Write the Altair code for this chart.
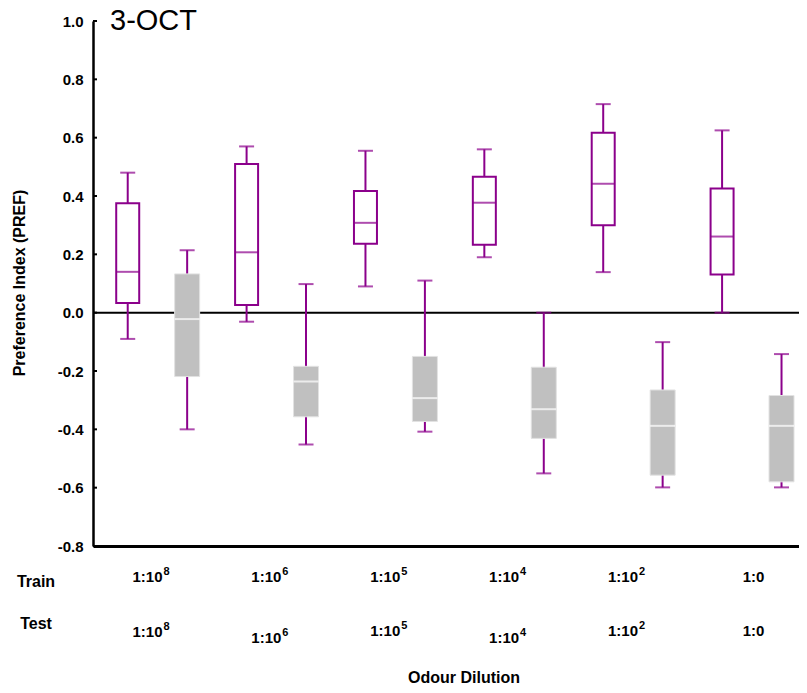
import altair as alt
import pandas as pd

# ---- data ----
dil_base = ["1:10", "1:10", "1:10", "1:10", "1:10", "1:0"]
dil_exp = ["8", "6", "5", "4", "2", ""]

train_hi  = [0.480, 0.570, 0.555, 0.560, 0.715, 0.625]
train_q3  = [0.375, 0.510, 0.417, 0.466, 0.617, 0.426]
train_med = [0.140, 0.207, 0.308, 0.377, 0.442, 0.261]
train_q1  = [0.033, 0.026, 0.236, 0.233, 0.300, 0.131]
train_lo  = [-0.090, -0.031, 0.090, 0.190, 0.139, 0.000]

test_hi  = [0.214, 0.098, 0.110, 0.000, -0.101, -0.142]
test_q3  = [0.133, -0.184, -0.150, -0.187, -0.265, -0.284]
test_med = [-0.022, -0.236, -0.293, -0.331, -0.388, -0.388]
test_q1  = [-0.219, -0.357, -0.373, -0.431, -0.557, -0.580]
test_lo  = [-0.400, -0.452, -0.408, -0.551, -0.599, -0.599]

y_ticks = [-0.8, -0.6, -0.4, -0.2, 0.0, 0.2, 0.4, 0.6, 0.8, 1.0]

# ---- style ----
PURPLE = "#8B008B"
GRAY = "#C0C0C0"
FONT = "Liberation Sans"

rows = []
for i in range(len(dil_base)):
    rows.append(dict(pos=2 * i, phase="Train",
                     lo=train_lo[i], q1=train_q1[i], med=train_med[i], q3=train_q3[i], hi=train_hi[i],
                     fill="white", stroke=PURPLE, sw=2, bw=23, medc=PURPLE, mw=23))
    rows.append(dict(pos=2 * i + 1, phase="Test",
                     lo=test_lo[i], q1=test_q1[i], med=test_med[i], q3=test_q3[i], hi=test_hi[i],
                     fill=GRAY, stroke="#e2e2e2", sw=1, bw=25, medc="white", mw=25))
df = pd.DataFrame(rows)

xscale = alt.Scale(domain=[-0.5, 11.21], nice=False, zero=False)
yscale = alt.Scale(domain=[-0.8, 1.0], nice=False, zero=False)

xaxis = alt.Axis(labels=False, ticks=False, grid=False, domainColor="black",
                 domainWidth=3, title=None)
yaxis = alt.Axis(values=y_ticks, grid=False, tickSize=0, labelPadding=10,
                 labelFont=FONT, labelFontSize=15, labelFontWeight="bold",
                 labelColor="black", domainColor="black", domainWidth=2.5,
                 title=None,
                 labelExpr="datum.value < 0 ? '-' + format(-datum.value, '.1f') : format(datum.value, '.1f')")

X = alt.X("pos:Q", scale=xscale, axis=xaxis)

def Y(field):
    return alt.Y(f"{field}:Q", scale=yscale, axis=yaxis)

base = alt.Chart(df)

zero_line = alt.Chart(pd.DataFrame({"z": [0.0]})).mark_rule(
    color="black", strokeWidth=2).encode(y=alt.Y("z:Q", scale=yscale, axis=yaxis))

inner_ticks = alt.Chart(pd.DataFrame({"t": y_ticks})).mark_rule(
    color="black", strokeWidth=2).encode(
    y=alt.Y("t:Q", scale=yscale, axis=yaxis), x=alt.value(0), x2=alt.value(4))

whisk = base.mark_rule(color=PURPLE, strokeWidth=2).encode(x=X, y=Y("lo"), y2="hi:Q")
cap_lo = base.mark_tick(orient="horizontal", size=15, thickness=2, color=PURPLE).encode(x=X, y=Y("lo"))
cap_hi = base.mark_tick(orient="horizontal", size=15, thickness=2, color=PURPLE).encode(x=X, y=Y("hi"))
box = base.mark_bar(orient="vertical").encode(
    x=X, y=Y("q1"), y2="q3:Q",
    fill=alt.Fill("fill:N", scale=None),
    stroke=alt.Stroke("stroke:N", scale=None),
    strokeWidth=alt.StrokeWidth("sw:Q", scale=None),
    size=alt.Size("bw:Q", scale=None),
)
median = base.mark_tick(orient="horizontal", thickness=2).encode(
    x=X, y=Y("med"),
    color=alt.Color("medc:N", scale=None),
    size=alt.Size("mw:Q", scale=None),
)

# ---- dilution labels (base text + superscript exponent) ----
test_dy = [0, 6, -1, 6, -1, -1]
lab_df = pd.DataFrame({
    "pos": [2 * i + 0.5 for i in range(len(dil_base))],
    "base": dil_base, "exp": dil_exp, "tdy": test_dy,
})

TXT = dict(font=FONT, fontWeight="bold", color="black", baseline="middle")

def label_row(row_y, use_dy):
    yexpr = f"{row_y} + datum.tdy" if use_dy else f"{row_y}"
    src = alt.Chart(lab_df).transform_calculate(
        ty=yexpr, ey=yexpr + " - 5", ax="datum.pos + 0.085", cx="datum.pos + 0.03")
    with_exp = src.transform_filter("datum.exp != ''")
    no_exp = src.transform_filter("datum.exp == ''")
    b = with_exp.mark_text(fontSize=15, align="right", **TXT).encode(
        x=alt.X("ax:Q", scale=xscale, axis=xaxis), y=alt.Y("ty:Q", scale=None), text="base:N")
    e = with_exp.mark_text(fontSize=11, align="left", dx=1, **TXT).encode(
        x=alt.X("ax:Q", scale=xscale, axis=xaxis), y=alt.Y("ey:Q", scale=None), text="exp:N")
    c = no_exp.mark_text(fontSize=15, align="center", **TXT).encode(
        x=alt.X("cx:Q", scale=xscale, axis=xaxis), y=alt.Y("ty:Q", scale=None), text="base:N")
    return [b, e, c]

row_df = pd.DataFrame({"name": ["Train", "Test"], "yy": [561, 603]})
row_labels = alt.Chart(row_df).mark_text(fontSize=16, **TXT).encode(
    x=alt.value(-57), y=alt.Y("yy:Q", scale=None), text="name:N")

xtitle = alt.Chart(pd.DataFrame({"txt": ["Odour Dilution"]})).mark_text(fontSize=16, **TXT).encode(
    x=alt.value(371), y=alt.value(657), text="txt:N")

ytitle = alt.Chart(pd.DataFrame({"txt": ["Preference Index (PREF)"]})).mark_text(
    fontSize=16, angle=270, align="center", **TXT).encode(
    x=alt.value(-73), y=alt.value(262), text="txt:N")

title = alt.Chart(pd.DataFrame({"txt": ["3-OCT"]})).mark_text(
    font=FONT, fontSize=29, color="black", align="left", baseline="middle").encode(
    x=alt.value(17), y=alt.value(0), text="txt:N")

chart = alt.layer(
    zero_line, inner_ticks, whisk, cap_lo, cap_hi, box, median,
    *label_row(556, False), *label_row(611, True),
    row_labels, xtitle, ytitle, title,
).properties(
    width=706, height=525,
    autosize=alt.AutoSizeParams(type="none"),
    padding={"left": 85, "top": 13, "right": 0, "bottom": 147},
).configure_view(stroke=None)

chart.save("out.html", embed_options={"renderer": "svg", "actions": False})
